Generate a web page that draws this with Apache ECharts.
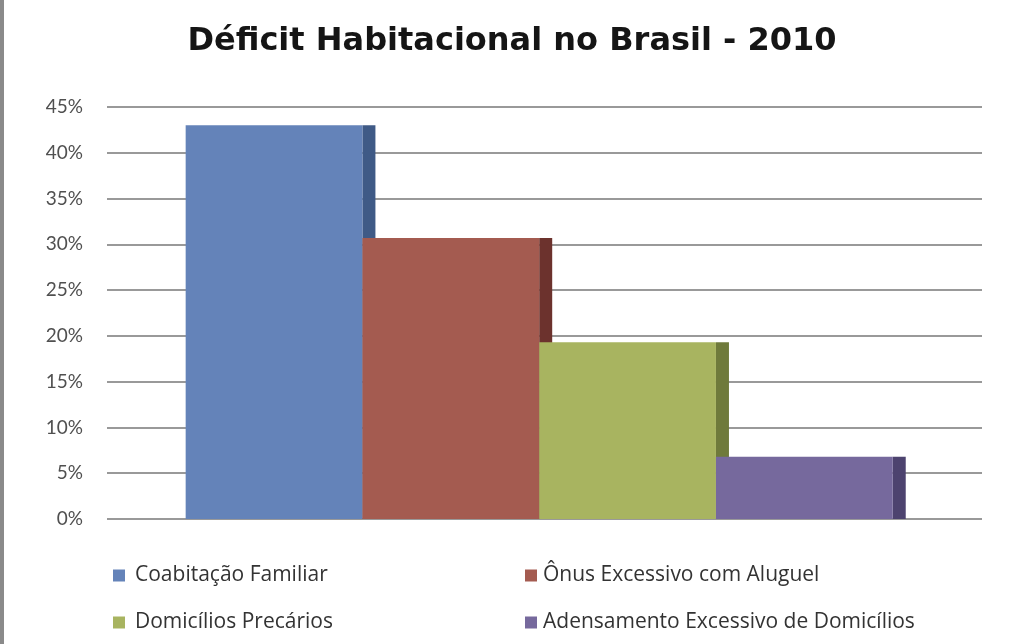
<!DOCTYPE html>
<html>
<head>
<meta charset="utf-8">
<script src="https://cdn.jsdelivr.net/npm/echarts@6/dist/echarts.min.js"></script>
<style>html,body{margin:0;padding:0;background:#fff}#chart{width:1024px;height:644px}</style>
</head>
<body>
<div id="chart"></div>
<script>
var categories = ['Coabitação Familiar', 'Ônus Excessivo com Aluguel', 'Domicílios Precários', 'Adensamento Excessivo de Domicílios'];
var values = [43.0, 30.7, 19.3, 6.8];
var frontColors = ['#6483b9', '#a45b50', '#a8b460', '#76699d'];
var sideColors = ['#3f5a86', '#6c322d', '#6f7a3b', '#4d436f'];
var yTicks = { min: 0, max: 45, interval: 5 };

var chart = echarts.init(document.getElementById('chart'));

function renderBar(params, api) {
  var idx = api.value(0);
  var val = api.value(1);
  var top = api.coord([idx, val]);
  var bottom = api.coord([idx + 1, 0]);
  var side = 13;
  var c = params.seriesIndex;
  return {
    type: 'group',
    children: [
      { type: 'rect', shape: { x: bottom[0], y: top[1], width: side, height: bottom[1] - top[1] }, style: { fill: sideColors[c] } },
      { type: 'rect', shape: { x: top[0], y: top[1], width: bottom[0] - top[0], height: bottom[1] - top[1] }, style: { fill: frontColors[c] } }
    ]
  };
}

var series = categories.map(function (name, i) {
  return {
    name: name,
    type: 'custom',
    renderItem: renderBar,
    itemStyle: { color: frontColors[i] },
    encode: { x: 0, y: 1 },
    data: [[i, values[i]]],
    z: 2 + i
  };
});

chart.setOption({
  animation: false,
  backgroundColor: '#ffffff',
  title: {
    text: 'Déficit Habitacional no Brasil - 2010',
    left: 'center',
    top: 21,
    textStyle: { fontFamily: 'DejaVu Sans', fontWeight: 'bold', fontSize: 32, color: '#151515' }
  },
  grid: { left: 107, right: 42, top: 107, bottom: 125 },
  xAxis: {
    type: 'value', min: -0.445, max: 4.505,
    show: false
  },
  yAxis: {
    type: 'value', min: yTicks.min, max: yTicks.max, interval: yTicks.interval,
    axisLine: { show: false }, axisTick: { show: false },
    axisLabel: { formatter: '{value}%', margin: 24, fontFamily: 'Lato', fontSize: 19, color: '#505050' },
    splitLine: { lineStyle: { color: '#999999', width: 2 } }
  },
  legend: [
    {
      data: [categories[0], categories[2]],
      orient: 'vertical', left: 113, top: 565, padding: 0, itemWidth: 12, itemHeight: 12, itemGap: 26,
      icon: 'rect',
      textStyle: { fontFamily: 'Open Sans', fontSize: 21, color: '#333', padding: [0, 0, 0, 5] }
    },
    {
      data: [categories[1], categories[3]],
      orient: 'vertical', left: 525, top: 565, padding: 0, itemWidth: 12, itemHeight: 12, itemGap: 26,
      icon: 'rect',
      textStyle: { fontFamily: 'Open Sans', fontSize: 21, color: '#333', padding: [0, 0, 0, 1] }
    }
  ],
  graphic: [
    { type: 'rect', left: 0, top: 0, shape: { width: 4, height: 644 }, style: { fill: '#8a8a8a' } }
  ],
  series: series
});
</script>
</body>
</html>
